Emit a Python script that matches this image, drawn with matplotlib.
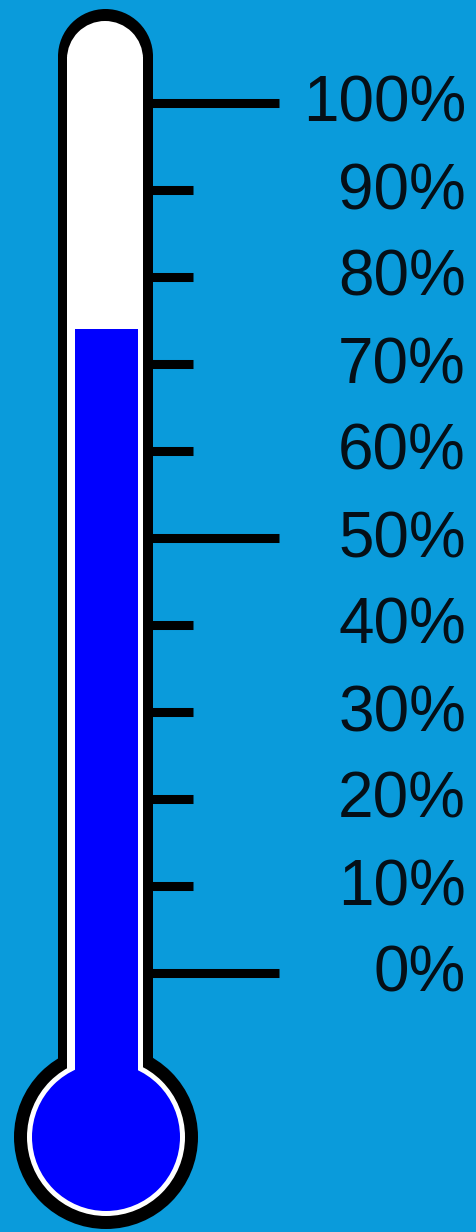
import matplotlib
matplotlib.use("Agg")
import matplotlib.pyplot as plt
from matplotlib.patches import Circle, Rectangle, Wedge
from matplotlib.transforms import Affine2D, ScaledTranslation

# ---- data ----
fill_value = 74                      # percent reached by the thermometer
tick_values = [0, 10, 20, 30, 40, 50, 60, 70, 80, 90, 100]
major_ticks = [0, 50, 100]
tick_labels = [f"{v}%" for v in tick_values]

# ---- style ----
BG = "#0A9BDB"
FILL = "#0000FF"
W, H = 477, 1232
DPI = 100

fig = plt.figure(figsize=(W / DPI, H / DPI), dpi=DPI, facecolor=BG)
ax = fig.add_axes([0, 0, 1, 1])
ax.set_facecolor(BG)
ax.set_axis_off()

# y axis in percent: 0% -> pixel 973, 100% -> pixel 103
px_per_pct = 8.7
zero_px = 973
ax.set_xlim(0, W)
ax.set_ylim((zero_px - H) / px_per_pct, zero_px / px_per_pct)

# pixel transform for the shell (origin top-left)
pxT = Affine2D().scale(1 / W, -1 / H).translate(0, 1) + fig.transFigure


def tube(x0, x1, top, bottom, color, z):
    r = (x1 - x0) / 2
    cx = (x0 + x1) / 2
    ax.add_patch(Rectangle((x0, top + r - 2), x1 - x0, bottom - top - r + 2,
                           transform=pxT, color=color, zorder=z, lw=0))
    ax.add_patch(Wedge((cx, top + r), r, 180, 360, transform=pxT,
                       color=color, zorder=z, lw=0))


bulb_c = (106, 1137)
# black outer shell
tube(58, 153, 9, 1100, "black", 2)
ax.add_patch(Circle(bulb_c, 92, transform=pxT, color="black", zorder=2, lw=0))
# white inner
tube(67, 143, 21, 1100, "white", 3)
ax.add_patch(Circle(bulb_c, 79, transform=pxT, color="white", zorder=3, lw=0))
# blue bulb
ax.add_patch(Circle(bulb_c, 74, transform=pxT, color=FILL, zorder=4, lw=0))

# blue column from the bulb up to the value
base = -15
ax.bar(106.5, fill_value - base, bottom=base, width=63, color=FILL,
       zorder=4, linewidth=0)

# tick marks
for v in tick_values:
    x_end = 279 if v in major_ticks else 193
    ax.hlines(v, 148, x_end, colors="black", linewidth=6.5, zorder=1)

# tick labels
off = ax.transData + ScaledTranslation(0, -19 / DPI, fig.dpi_scale_trans)
for v, lab in zip(tick_values, tick_labels):
    ax.text(466, v, lab, ha="right", va="baseline", fontsize=46,
            family=["Liberation Sans", "DejaVu Sans"], color="#050f17",
            transform=off, zorder=5)

fig.savefig("out.png", dpi=DPI, facecolor=BG)
